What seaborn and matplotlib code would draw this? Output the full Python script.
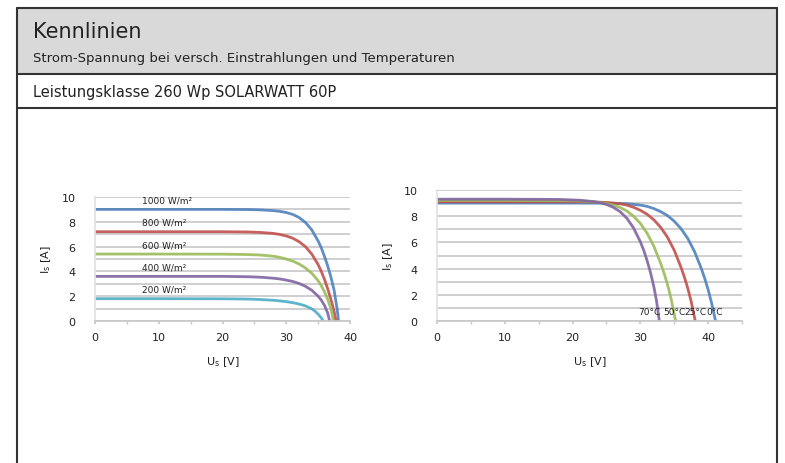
import numpy as np
import pandas as pd
import seaborn as sns
import matplotlib.pyplot as plt
from matplotlib.patches import Rectangle
from matplotlib.lines import Line2D

# Data (voltage [V], current [A])
irr_labels = ['1000 W/m²', '800 W/m²', '600 W/m²', '400 W/m²', '200 W/m²']
irr_u = [
    [0, 10, 20, 24, 26, 28, 29, 30, 31, 32, 33, 34, 35, 35.5, 36, 36.5, 37, 37.5, 38, 38.2],
    [0, 10, 20, 24, 26, 28, 29, 30, 31, 32, 33, 34, 35, 35.5, 36, 36.5, 37, 37.5, 37.8],
    [0, 10, 20, 24, 26, 28, 29, 30, 31, 32, 33, 34, 35, 35.5, 36, 36.5, 37, 37.4],
    [0, 10, 20, 24, 26, 28, 29, 30, 31, 32, 33, 34, 35, 35.5, 36, 36.5, 36.8],
    [0, 10, 20, 24, 26, 28, 29, 30, 31, 32, 33, 34, 34.5, 35, 35.5, 35.8],
]
irr_i = [
    [9.0, 9.0, 9.0, 8.99, 8.96, 8.9, 8.84, 8.75, 8.6, 8.35, 7.95, 7.35, 6.45, 5.9, 5.2, 4.45, 3.55, 2.5, 0.9, 0],
    [7.2, 7.2, 7.2, 7.18, 7.14, 7.06, 6.98, 6.86, 6.68, 6.4, 6.0, 5.4, 4.55, 4.0, 3.35, 2.6, 1.75, 0.8, 0],
    [5.4, 5.4, 5.39, 5.36, 5.32, 5.22, 5.13, 5.0, 4.83, 4.6, 4.28, 3.85, 3.25, 2.85, 2.35, 1.75, 1.0, 0],
    [3.6, 3.6, 3.6, 3.57, 3.53, 3.45, 3.39, 3.3, 3.19, 3.03, 2.8, 2.48, 2.0, 1.68, 1.25, 0.65, 0],
    [1.8, 1.8, 1.79, 1.77, 1.73, 1.67, 1.62, 1.56, 1.48, 1.37, 1.22, 0.98, 0.8, 0.55, 0.25, 0],
]
irr_label_y = [9.75, 7.95, 6.15, 4.35, 2.55]

temp_labels = ['0°C', '25°C', '50°C', '70°C']
temp_u = [
    [0, 10, 20, 26, 28, 30, 31, 32, 33, 34, 35, 36, 37, 38, 39, 39.5, 40, 40.5, 41.1],
    [0, 10, 20, 23, 25, 27, 28, 29, 30, 31, 32, 33, 34, 35, 36, 36.5, 37, 37.5, 38.1],
    [0, 10, 20, 22, 24, 25, 26, 27, 28, 29, 30, 31, 32, 33, 33.5, 34, 34.5, 35.2],
    [0, 10, 18, 21, 23, 24, 25, 26, 27, 28, 29, 30, 30.5, 31, 31.5, 32, 32.4, 32.8],
]
temp_i = [
    [9.0, 9.0, 9.0, 8.99, 8.95, 8.85, 8.75, 8.58, 8.35, 8.05, 7.62, 7.05, 6.3, 5.3, 4.0, 3.25, 2.4, 1.4, 0],
    [9.1, 9.1, 9.1, 9.09, 9.05, 8.95, 8.85, 8.68, 8.45, 8.15, 7.72, 7.15, 6.4, 5.4, 4.1, 3.35, 2.5, 1.5, 0],
    [9.2, 9.2, 9.18, 9.14, 9.05, 8.97, 8.85, 8.67, 8.4, 8.0, 7.45, 6.7, 5.7, 4.4, 3.65, 2.8, 1.8, 0],
    [9.3, 9.3, 9.28, 9.22, 9.12, 9.03, 8.9, 8.68, 8.35, 7.85, 7.1, 6.05, 5.4, 4.6, 3.7, 2.6, 1.5, 0],
]
temp_label_x = [40.9, 38.1, 35.1, 31.4]

irr_colors = ['#4f81bd', '#c0504d', '#9bbb59', '#8064a2', '#4bacc6']
temp_colors = ['#4f81bd', '#c0504d', '#9bbb59', '#8064a2']

rows = []
for lab, us, iss in zip(irr_labels, irr_u, irr_i):
    rows += [{'U': u, 'I': i, 'curve': lab} for u, i in zip(us, iss)]
df_irr = pd.DataFrame(rows)
rows = []
for lab, us, iss in zip(temp_labels, temp_u, temp_i):
    rows += [{'U': u, 'I': i, 'curve': lab} for u, i in zip(us, iss)]
df_temp = pd.DataFrame(rows)

sns.set_theme(style='white')
plt.rcParams['font.family'] = ['DejaVu Sans']

W, H = 785, 464
fig = plt.figure(figsize=(W / 100, H / 100), dpi=100)


def fx(px):
    return px / W


def fy(py):
    return 1 - py / H


# Header boxes
fig.patches.append(Rectangle((fx(17), fy(75)), fx(760), 66 / H, transform=fig.transFigure,
                             facecolor='#d9d9d9', edgecolor='none', zorder=0))
line_kw = dict(transform=fig.transFigure, color='#333333', lw=1.5)
fig.lines.append(Line2D([fx(17), fx(777)], [fy(9), fy(9)], **line_kw))
fig.lines.append(Line2D([fx(17), fx(777)], [fy(75), fy(75)], **line_kw))
fig.lines.append(Line2D([fx(17), fx(777)], [fy(109), fy(109)], **line_kw))
fig.lines.append(Line2D([fx(17), fx(17)], [fy(9), 0], **line_kw))
fig.lines.append(Line2D([fx(777), fx(777)], [fy(9), 0], **line_kw))

fig.text(fx(33), fy(38), 'Kennlinien', fontsize=15, color='#222222', va='baseline')
fig.text(fx(33), fy(62), 'Strom-Spannung bei versch. Einstrahlungen und Temperaturen',
         fontsize=9.5, color='#222222', va='baseline')
fig.text(fx(33), fy(93), 'Leistungsklasse 260 Wp SOLARWATT 60P', fontsize=10.5,
         color='#222222', va='center')


def style_axes(ax, xmax):
    ax.set_xlim(0, xmax)
    ax.set_ylim(0, 10)
    for y in range(0, 11):
        ax.axhline(y, color='#cfcfcf', lw=1.4, zorder=0)
    for s in ['top', 'right']:
        ax.spines[s].set_visible(False)
    ax.spines['left'].set_color('#e2e2e2')
    ax.spines['bottom'].set_color('#c8c8c8')
    ax.set_xticks([0, 10, 20, 30, 40])
    ax.set_xticks(np.arange(0, xmax + 0.1, 5), minor=True)
    ax.set_yticks([0, 2, 4, 6, 8, 10])
    ax.tick_params(axis='x', which='both', bottom=True, length=2, color='#c8c8c8',
                   labelsize=8, pad=6, labelcolor='#222222')
    ax.tick_params(axis='y', left=False, labelsize=8, pad=8, labelcolor='#222222')
    ax.set_xlabel(r'U$_{\rm s}$ [V]', fontsize=8, color='#222222', labelpad=9)
    ax.set_ylabel(r'I$_{\rm s}$ [A]', fontsize=8, color='#222222', labelpad=6)
    ax.get_legend().remove()


# Left chart: irradiance
ax1 = fig.add_axes([fx(95), fy(322), 255 / W, 124 / H])
sns.lineplot(data=df_irr, x='U', y='I', hue='curve', palette=irr_colors,
             estimator=None, lw=2, ax=ax1, alpha=0.9)
style_axes(ax1, 40)
for lab, y in zip(irr_labels, irr_label_y):
    ax1.text(7.4, y, lab, fontsize=6.5, va='center', ha='left', color='#222222')

# Right chart: temperature
ax2 = fig.add_axes([fx(437), fy(322), 305 / W, 131 / H])
sns.lineplot(data=df_temp, x='U', y='I', hue='curve', palette=temp_colors,
             estimator=None, lw=2, ax=ax2, alpha=0.9)
style_axes(ax2, 45)
for lab, x in zip(temp_labels, temp_label_x):
    ax2.text(x, 0.75, lab, fontsize=6.5, va='center', ha='center', color='#222222')

fig.savefig('out.png', dpi=100)
